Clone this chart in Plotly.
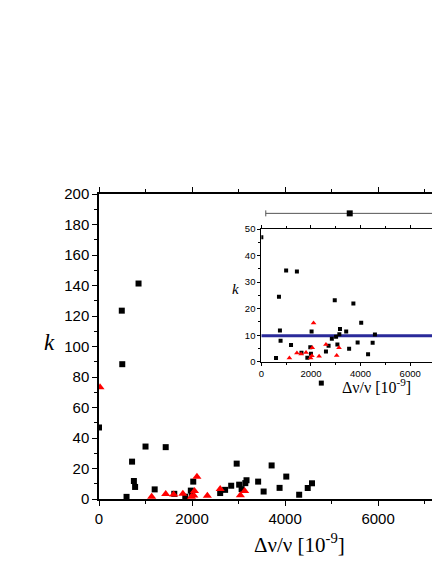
import plotly.graph_objects as go

# black squares (main and inset share the same data)
black_x = [0, 490, 850, 500, 592, 711, 750, 776, 1000, 1197, 1434, 1618, 1855, 1974, 2000,
           2026, 2605, 2711, 2842, 2960, 3013, 3066, 3145, 3171, 3421, 3539, 3711, 3882,
           4026, 4303, 4487, 4579]
black_y = [46.9, 123.5, 141.3, 88.4, 1.4, 24.5, 11.8, 7.9, 34.4, 6.3, 34.0, 3.4, 1.5, 5.5, 3.0,
           11.4, 3.9, 6.0, 8.7, 23.2, 9.4, 6.5, 10.4, 12.3, 11.4, 4.9, 22.0, 7.3,
           14.7, 2.8, 7.2, 10.3]

# red triangles
red_x = [21, 1132, 1434, 1605, 1803, 1987, 2039, 2053, 2105, 2329, 2605, 3039, 3132]
red_y = [73.2, 1.4, 3.3, 2.9, 3.5, 1.4, 2.3, 5.3, 14.6, 2.1, 6.5, 2.4, 5.3]

# mean value with its spread (drawn above the inset)
mean_x = [5390]
mean_y = [187.3]
mean_err = [1805]
legend_x = [4779]
legend_y = [76]

# weighted mean line in the inset
k_mean = 9.8
inset_xmax = 6920

main_ticks_y = list(range(0, 201, 20))
main_ticks_x = [0, 2000, 4000, 6000]
inset_ticks_y = list(range(0, 51, 10))

serif = "Liberation Serif"
sans = "Liberation Sans"

# the page has an 8px body margin, so the figure is drawn at (8, 8)
OFF = 8
W, H = 440 - OFF, 570 - OFF
ML, MT, MB = 99 - OFF, 194 - OFF, 570 - 499

fig = go.Figure()

fig.add_trace(go.Scatter(x=black_x, y=black_y, mode="markers",
                         marker=dict(symbol="square", size=6, color="black"),
                         xaxis="x", yaxis="y"))
fig.add_trace(go.Scatter(x=red_x, y=red_y, mode="markers",
                         marker=dict(symbol="triangle-up", size=8, color="red"),
                         xaxis="x", yaxis="y"))
fig.add_trace(go.Scatter(x=mean_x, y=mean_y, mode="markers",
                         marker=dict(symbol="square", size=6, color="black"),
                         error_x=dict(type="data", array=mean_err, color="#555555",
                                      thickness=1, width=3),
                         xaxis="x", yaxis="y"))
fig.add_trace(go.Scatter(x=legend_x, y=legend_y, mode="markers",
                         marker=dict(symbol="square", size=5, color="black"),
                         xaxis="x", yaxis="y"))

# inset
fig.add_trace(go.Scatter(x=[0, inset_xmax], y=[k_mean, k_mean], mode="lines",
                         line=dict(color="#2a2a9a", width=3),
                         xaxis="x2", yaxis="y2"))
fig.add_trace(go.Scatter(x=black_x, y=black_y, mode="markers",
                         marker=dict(symbol="square", size=4, color="black"),
                         xaxis="x2", yaxis="y2"))
fig.add_trace(go.Scatter(x=red_x, y=red_y, mode="markers",
                         marker=dict(symbol="triangle-up", size=5, color="red"),
                         xaxis="x2", yaxis="y2"))

axis_common = dict(showgrid=False, zeroline=False, showline=True, linecolor="black",
                   ticks="outside", tickcolor="black", mirror="ticks")

fig.update_layout(
    width=W, height=H,
    margin=dict(l=ML, r=0, t=MT, b=MB),
    paper_bgcolor="white", plot_bgcolor="white",
    showlegend=False,
    xaxis=dict(**axis_common, range=[0, 7180], tickvals=main_ticks_x, linewidth=1.5,
               ticklen=5, minor=dict(dtick=1000, ticks="outside", ticklen=3, tickcolor="black"),
               tickfont=dict(family=sans, size=15, color="black")),
    yaxis=dict(**axis_common, range=[0, 200], tickvals=main_ticks_y, linewidth=1.5,
               ticklen=5, minor=dict(dtick=10, ticks="outside", ticklen=3, tickcolor="black"),
               tickfont=dict(family=sans, size=15, color="black")),
    xaxis2=dict(**axis_common, domain=[0.486, 1.0], anchor="y2", range=[0, inset_xmax],
                dtick=2000, ticklen=3, linewidth=1,
                minor=dict(dtick=1000, ticks="outside", ticklen=2, tickcolor="black"),
                tickfont=dict(family=sans, size=9.5, color="black")),
    yaxis2=dict(**axis_common, domain=[0.450, 0.885], anchor="x2", range=[0, 50],
                tickvals=inset_ticks_y, ticklen=3, linewidth=1,
                minor=dict(dtick=5, ticks="outside", ticklen=2, tickcolor="black"),
                tickfont=dict(family=sans, size=9.5, color="black")),
)

# titles placed at page pixel positions, converted to paper coordinates
pw, ph = W - ML, H - MT - MB
labels = [
    ("Δν/ν [10<sup>-9</sup>]", 304, 543, 21),
    ("<i>k</i>", 48, 342, 23),
    ("Δν/ν [10<sup>-9</sup>]", 382, 386, 16),
    ("<i>k</i>", 238, 289, 15),
]
for text, px, py, size in labels:
    fig.add_annotation(text=text, showarrow=False, xref="paper", yref="paper",
                       xanchor="center", yanchor="middle",
                       x=(px - OFF - ML) / pw, y=(H - MB - (py - OFF)) / ph,
                       font=dict(family=serif, size=size, color="black"))

fig.write_html("out.html")
